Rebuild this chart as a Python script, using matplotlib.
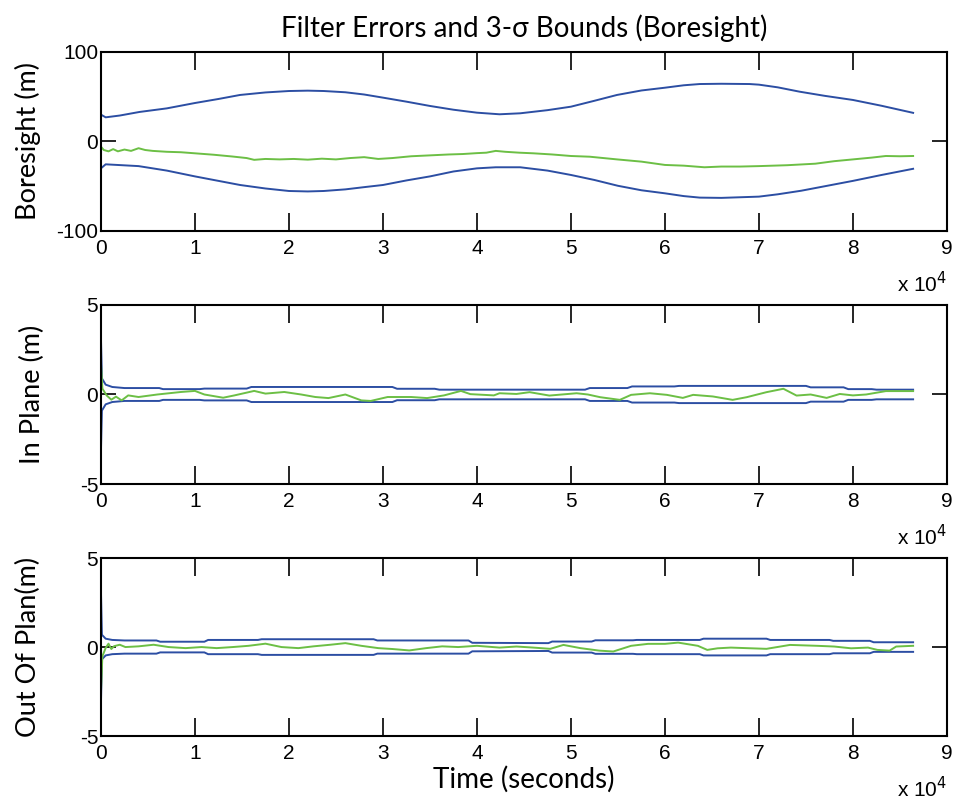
import matplotlib
matplotlib.use("Agg")
import matplotlib.pyplot as plt
from matplotlib.ticker import FuncFormatter

plt.rcParams["axes.unicode_minus"] = False

# time knots are in seconds
# ---- boresight panel ----
bs_t_up = [0, 500, 2000, 4100, 7000, 10000, 12500, 14800, 17500, 20000, 22000,
           23700, 26000, 28000, 30000, 32500, 35000, 37500, 40000, 42400, 44600,
           47500, 50000, 52500, 54900, 57500, 60000, 62000, 63700, 66000, 69000,
           70000, 72000, 74300, 77000, 80000, 83000, 86400]
bs_up = [30, 27, 29, 33, 37, 43, 47.5, 52, 54.8, 56.4, 56.8, 56.4, 55, 52.5, 49,
         44.5, 39.7, 35.5, 32.2, 30.4, 31.5, 35, 38.9, 45.5, 52, 57, 60.1, 62.8,
         64.2, 64.5, 64.2, 63.5, 60.5, 55.7, 51, 46.4, 40, 32]
bs_t_lo = [0, 500, 4000, 7000, 10000, 12500, 14800, 17500, 20000, 22000, 23700,
           26000, 28000, 30000, 32500, 35000, 37500, 40000, 42000, 44600, 47500,
           50000, 52500, 55000, 57500, 60000, 62000, 63700, 66000, 70000, 72000,
           74500, 77000, 80000, 83000, 86400]
bs_lo = [-30, -25.5, -27.5, -32.5, -39, -44, -48.6, -52.5, -55.3, -55.8, -55.3,
         -53.5, -51, -48.6, -43.5, -39, -33.5, -30, -28.8, -28.8, -32.5, -37.4,
         -43, -49.5, -54.5, -57.9, -61, -62.7, -63, -61.6, -59, -55, -50, -44,
         -37.5, -30.5]
bs_t_err = [0, 300, 800, 1300, 1800, 2500, 3200, 4000, 4700, 5500, 7000, 8500,
            10000, 12000, 14000, 15500, 16300, 17500, 19000, 20500, 22000, 23500,
            25000, 26500, 28000, 29500, 31000, 33000, 35000, 37000, 38500, 40000,
            41000, 42000, 43000, 44500, 46000, 48000, 50000, 52000, 54900, 57500,
            60000, 62000, 64200, 66000, 68000, 70000, 73000, 76000, 78000, 80000,
            82000, 83500, 85000, 86400]
bs_err = [-5.8, -9.5, -11, -8.5, -11, -9, -10.5, -7.5, -9.5, -10.5, -11.5, -12,
          -13.2, -14.8, -16.8, -18.5, -20.5, -19.5, -20, -19.5, -20.3, -19.2, -20,
          -18.5, -17.5, -19.5, -18.5, -16.5, -15.5, -14.5, -14, -13, -12.5, -10.5,
          -11.5, -12.5, -13.2, -14.5, -16.2, -17, -20, -22.5, -26.2, -27, -28.8,
          -28, -28, -27.5, -26.5, -24.8, -22, -20, -18, -16.2, -16.5, -16.2]

# ---- in-plane panel ----
ip_t_sig = [0, 100, 500, 1200, 2500, 6200, 6600, 10500, 11000, 15500, 16000,
            31000, 31500, 35500, 36000, 51500, 52000, 56000, 56500, 61000, 61500,
            75000, 75500, 79000, 79500, 82000, 82500, 86400]
ip_sig = [3.1, 0.9, 0.55, 0.42, 0.36, 0.36, 0.3, 0.3, 0.33, 0.33, 0.42, 0.42,
          0.32, 0.32, 0.27, 0.27, 0.36, 0.36, 0.45, 0.45, 0.48, 0.48, 0.4, 0.4,
          0.3, 0.3, 0.27, 0.27]
ip_t_err = [0, 150, 600, 1100, 1600, 2200, 2900, 4000, 6000, 8500, 10000, 11000,
            13000, 14200, 16300, 17500, 19500, 21300, 22800, 24200, 26000, 27700,
            28700, 30500, 33000, 34700, 36500, 38300, 39300, 41800, 42400, 44200,
            45600, 47700, 50600, 51800, 53100, 55200, 56400, 58400, 60200, 61900,
            63000, 65100, 67200, 68700, 70800, 72600, 74000, 75500, 77200, 78600,
            80000, 81400, 83500, 84400, 86400]
ip_err = [1.72, 0.33, -0.05, -0.29, -0.12, -0.33, -0.05, -0.14, 0.0, 0.14, 0.2,
          0.0, -0.18, -0.05, 0.2, 0.05, 0.14, 0.0, -0.14, -0.2, 0.0, -0.33, -0.36,
          -0.14, -0.14, -0.2, -0.05, 0.2, 0.02, -0.05, 0.07, 0.03, 0.13, -0.06,
          0.07, 0.0, -0.15, -0.3, -0.02, 0.07, -0.02, -0.19, -0.02, -0.11, -0.3,
          -0.15, 0.13, 0.32, -0.06, 0.0, -0.19, 0.03, -0.05, 0.0, 0.19, 0.19, 0.19]

# ---- out-of-plane panel ----
op_t_sig = [0, 100, 500, 1200, 2500, 5900, 6300, 11000, 11400, 16700, 17100,
            29000, 29400, 39100, 39500, 47600, 48000, 52200, 52600, 56600, 57000,
            63700, 64100, 70800, 71200, 77500, 77900, 81800, 82200, 86400]
op_sig = [3.1, 0.69, 0.47, 0.4, 0.37, 0.37, 0.3, 0.3, 0.4, 0.4, 0.44, 0.44,
          0.37, 0.37, 0.24, 0.22, 0.31, 0.31, 0.38, 0.38, 0.4, 0.4, 0.47, 0.47,
          0.4, 0.4, 0.35, 0.35, 0.27, 0.27]
op_t_err = [0, 150, 500, 800, 1100, 1400, 2000, 2600, 4000, 5600, 7200, 9000,
            10700, 12300, 14000, 15700, 17500, 19200, 21000, 22600, 24400, 26000,
            27700, 29500, 31000, 32800, 34600, 36300, 38000, 40000, 42400, 44200,
            46000, 47800, 49200, 51000, 53000, 54500, 56400, 58200, 60000, 61400,
            63500, 64500, 65600, 67000, 70800, 73300, 76200, 78000, 79800, 81600,
            82600, 83900, 84600, 86400]
op_err = [-2.5, -0.52, -0.05, 0.19, -0.11, 0.05, 0.13, 0.0, 0.04, 0.13, 0.0,
          -0.06, 0.0, -0.06, 0.0, 0.07, 0.19, 0.0, -0.06, 0.04, 0.13, 0.22, 0.07,
          -0.06, -0.11, -0.19, -0.06, 0.04, 0.0, 0.07, -0.03, 0.03, -0.03, -0.1,
          0.12, -0.06, -0.2, -0.25, 0.07, 0.18, 0.18, 0.25, 0.07, -0.16, -0.07,
          -0.03, -0.1, 0.12, 0.07, 0.03, -0.07, -0.03, -0.16, -0.2, 0.03, 0.07]

BLUE = "#2c4ea3"
GREEN = "#6cbf45"
LBL_FONT = "Lato"
TICK_FONT = "Liberation Sans"
LW = 1.4

fig = plt.figure(figsize=(9.57, 8.06), dpi=100)
boxes = [[0.1055, 0.7134, 0.884, 0.2221],
         [0.1055, 0.3995, 0.884, 0.2221],
         [0.1055, 0.0868, 0.884, 0.2208]]
axes = [fig.add_axes(b) for b in boxes]

# boresight
ax = axes[0]
ax.plot(bs_t_up, bs_up, color=BLUE, lw=LW)
ax.plot(bs_t_lo, bs_lo, color=BLUE, lw=LW)
ax.plot(bs_t_err, bs_err, color=GREEN, lw=LW)
ax.set_ylim(-100, 100)
ax.set_yticks([-100, 0, 100])
ax.set_ylabel("Boresight (m)", family=LBL_FONT, fontsize=19.5)
ax.yaxis.set_label_coords(-0.071, 0.5)
ax.set_title("Filter Errors and 3-\u03c3 Bounds (Boresight)", family=LBL_FONT,
             fontsize=20, pad=11)

# in plane
ax = axes[1]
ax.plot(ip_t_sig, ip_sig, color=BLUE, lw=LW)
ax.plot(ip_t_sig, [-s for s in ip_sig], color=BLUE, lw=LW)
ax.plot(ip_t_err, ip_err, color=GREEN, lw=LW)
ax.set_ylim(-5, 5)
ax.set_yticks([-5, 0, 5])
ax.set_ylabel("In Plane (m)", family=LBL_FONT, fontsize=19.5)
ax.yaxis.set_label_coords(-0.066, 0.5)

# out of plane
ax = axes[2]
ax.plot(op_t_sig, op_sig, color=BLUE, lw=LW)
ax.plot(op_t_sig, [-s for s in op_sig], color=BLUE, lw=LW)
ax.plot(op_t_err, op_err, color=GREEN, lw=LW)
ax.set_ylim(-5, 5)
ax.set_yticks([-5, 0, 5])
ax.set_ylabel("Out Of Plan(m)", family=LBL_FONT, fontsize=19.5)
ax.yaxis.set_label_coords(-0.071, 0.5)
ax.set_xlabel("Time (seconds)", family=LBL_FONT, fontsize=20, labelpad=2)

for ax in axes:
    ax.set_xlim(0, 90000)
    ax.set_xticks(range(0, 90001, 10000))
    ax.xaxis.set_major_formatter(FuncFormatter(lambda v, p: "%d" % round(v / 1e4)))
    ax.tick_params(axis="x", direction="in", length=13, width=1.2, top=True,
                   labelsize=15, pad=6, labelfontfamily=TICK_FONT)
    ax.tick_params(axis="y", direction="in", length=11, width=1.2, right=True,
                   labelsize=15, pad=2, labelfontfamily=TICK_FONT)
    for s in ax.spines.values():
        s.set_linewidth(1.5)
    ax.text(1.0, -0.225, "x 10$^4$", transform=ax.transAxes, ha="right",
            va="top", fontsize=15, family=TICK_FONT)

fig.savefig("out.png", dpi=100)
